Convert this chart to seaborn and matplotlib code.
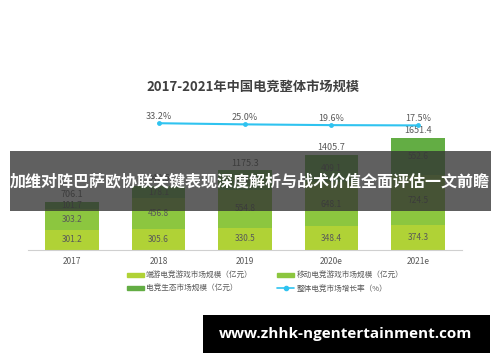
import matplotlib
matplotlib.use("Agg")
import matplotlib.pyplot as plt
import seaborn as sns
import pandas as pd
from matplotlib.patches import Patch, Rectangle
from matplotlib.lines import Line2D

years = ["2017", "2018", "2019", "2020e", "2021e"]
pc_game = [301.2, 305.6, 330.5, 348.4, 374.3]
mobile_game = [303.2, 456.8, 554.8, 648.1, 724.5]
ecosystem = [101.7, 178.1, 290.0, 409.1, 552.6]
totals = [706.1, 940.5, 1175.3, 1405.7, 1651.4]
growth_years = ["2018", "2019", "2020e", "2021e"]
growth = [33.2, 25.0, 19.6, 17.5]

title = "2017-2021年中国电竞整体市场规模"
legend_labels = ["端游电竞游戏市场规模（亿元）", "移动电竞游戏市场规模（亿元）",
                 "电竞生态市场规模（亿元）", "整体电竞市场增长率（%）"]
banner = "加维对阵巴萨欧协联关键表现深度解析与战术价值全面评估一文前瞻"
watermark = "www.zhhk-ngentertainment.com"

sns.set_style("white")
plt.rcParams["font.family"] = ["Noto Sans CJK SC", "DejaVu Sans"]

c_pc = "#b0d236"
c_mob = "#8cc63f"
c_eco = "#63ad44"
c_line = "#2fc3f0"
c_txt = "#595959"

df = pd.DataFrame({"year": years, "pc": pc_game, "mob": mobile_game, "eco": ecosystem})
df["s2"] = df["pc"] + df["mob"]
df["s3"] = df["s2"] + df["eco"]

fig = plt.figure(figsize=(5.0, 3.62), dpi=100)
ax = fig.add_axes([28 / 500, (362 - 250) / 362, 434 / 500, 150 / 362])

w = 0.62
sns.barplot(data=df, x="year", y="s3", color=c_eco, width=w, ax=ax, saturation=1, linewidth=0)
sns.barplot(data=df, x="year", y="s2", color=c_mob, width=w, ax=ax, saturation=1, linewidth=0)
sns.barplot(data=df, x="year", y="pc", color=c_pc, width=w, ax=ax, saturation=1, linewidth=0)

ax.set_xlim(-0.509, 4.509)
ax.set_ylim(0, 2211)
for i in range(len(years)):
    p, m, e = pc_game[i], mobile_game[i], ecosystem[i]
    ax.text(i, p / 2, f"{p:.1f}", ha="center", va="center", fontsize=6, color=c_txt)
    ax.text(i, p + m / 2, f"{m:.1f}", ha="center", va="center", fontsize=6, color=c_txt)
    ax.text(i, p + m + e / 2, f"{e:.1f}", ha="center", va="center", fontsize=6, color=c_txt)
    ax.text(i, p + m + e + 40, f"{totals[i]:.1f}", ha="center", va="bottom", fontsize=6.5, color=c_txt)

ax.set_xlabel("")
ax.set_ylabel("")
ax.set_yticks([])
ax.tick_params(axis="x", length=0, labelsize=6, colors=c_txt, pad=5)
for s in ["top", "right", "left"]:
    ax.spines[s].set_visible(False)
ax.spines["bottom"].set_color("#d0d0d0")
ax.spines["bottom"].set_linewidth(0.8)

ax2 = ax.twinx()
gdf = pd.DataFrame({"year": [years.index(y) for y in growth_years], "g": [g / 100 for g in growth]})
sns.lineplot(data=gdf, x="year", y="g", color=c_line, marker="o", markersize=3.5,
             markeredgewidth=0, linewidth=1.5, ax=ax2)
ax2.set_ylim(-8.72, 1.99)
ax2.set_xlim(-0.509, 4.509)
for xi, g in zip(gdf["year"], growth):
    ax2.text(xi, g / 100 + 0.14, f"{g:.1f}%", ha="center", va="bottom", fontsize=6.5, color=c_txt)
ax2.set_yticks([])
ax2.set_ylabel("")
for s in ax2.spines.values():
    s.set_visible(False)

fig.text(0.506, (362 - 87) / 362, title, ha="center", va="center", fontsize=9.5,
         fontweight="bold", color="#404040")

handles = [Patch(color=c_pc), Patch(color=c_eco), Patch(color=c_mob),
           Line2D([0], [0], color=c_line, marker="o", markersize=3, lw=1.2)]
labels = [legend_labels[0], legend_labels[2], legend_labels[1], legend_labels[3]]
fig.legend(handles, labels, ncol=2, loc="upper left", bbox_to_anchor=(120 / 500, (362 - 265) / 362),
           frameon=False, fontsize=5.5, handlelength=2.2, handleheight=0.5, columnspacing=3.2,
           handletextpad=0.3, labelspacing=0.6, labelcolor=c_txt)

# overlay banner
fig.patches.append(Rectangle((10 / 500, (362 - 211) / 362), 481 / 500, 60 / 362,
                             transform=fig.transFigure, facecolor="#333333", alpha=0.78,
                             edgecolor="none", zorder=5))
fig.text(250 / 500, (362 - 181) / 362, banner, ha="center", va="center", fontsize=11.5,
         fontweight="bold", color="white", zorder=6)
fig.patches.append(Rectangle((203 / 500, (362 - 353) / 362), 287 / 500, 38 / 362,
                             transform=fig.transFigure, facecolor="black", edgecolor="none", zorder=5))
fig.text(346 / 500, (362 - 334) / 362, watermark, ha="center", va="center", fontsize=11,
         fontweight="bold", color="white", family=["Open Sans", "DejaVu Sans"], zorder=6)

fig.savefig("out.png", dpi=100)
